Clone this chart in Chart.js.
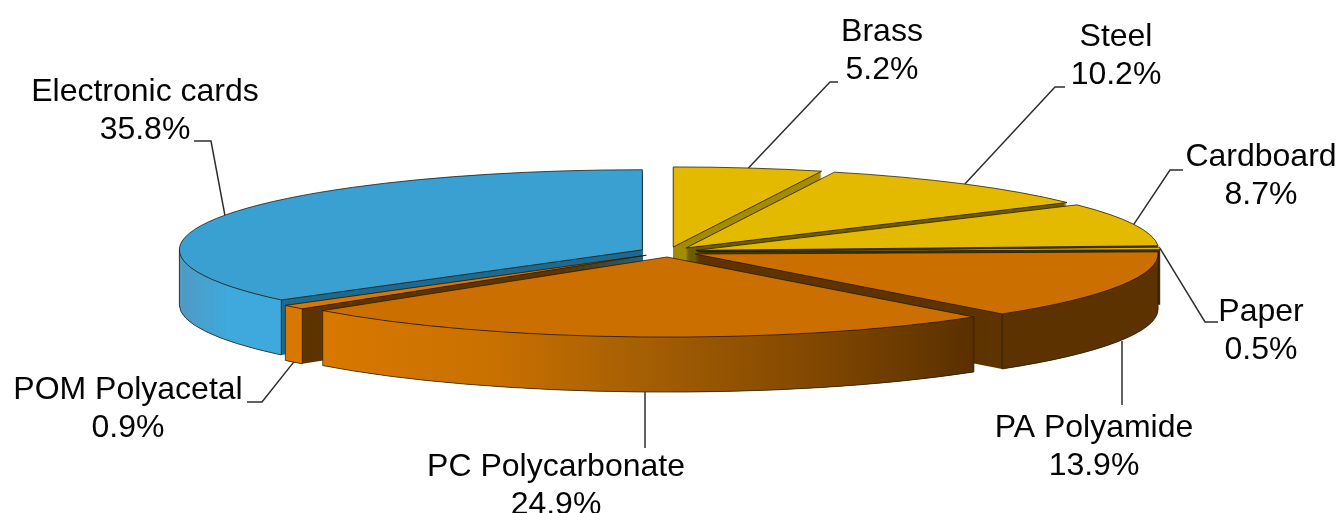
<!DOCTYPE html>
<html>
<head>
<meta charset="utf-8">
<title>Material share</title>
<script src="https://cdn.jsdelivr.net/npm/chart.js@4/dist/chart.umd.min.js"></script>
<style>
    html, body { margin: 0; padding: 0; background: #fff; overflow: hidden; }
    canvas { display: block; }
</style>
</head>
<body>
<canvas id="pieChart" width="1341" height="513"></canvas>
<script>
// clockwise from 12 o'clock
const materials = ['Brass', 'Steel', 'Cardboard', 'Paper', 'PA Polyamide', 'PC Polycarbonate', 'POM Polyacetal', 'Electronic cards'];
const shares = [5.2, 10.2, 8.7, 0.5, 13.9, 24.9, 0.9, 35.8];

const topColors = ['#e3ba00', '#e3ba00', '#e3ba00', '#e3ba00', '#cb7000', '#cb7000', '#d87800', '#3a9fd1'];
const cutColors = ['#a48c00', '#6e5c00', '#4a3e00', '#3a3000', '#5f3400', '#5f3400', '#5f3400', '#1f6a90'];
const rimColors = [
    ['#a48c00', '#a48c00'],
    ['#8f7a00', '#8f7a00'],
    ['#6e5c00', '#6e5c00'],
    ['#4f4200', '#4f4200'],
    ['#5c3200', '#5c3200'],
    ['#d87800', '#ca7100', '#a45e04', '#824800', '#5a3000'],
    ['#d87800', '#d87800'],
    ['#4f9ac2', '#3fa9de', '#3fa9de']
];

// back to front
const paintOrder = [7, 0, 1, 2, 3, 4, 6, 5];

// text centres and leader bends, in page pixels
const labelX = [882, 1116, 1261, 1261, 1094, 556, 128, 145];
const labelY = [32, 37, 157, 312, 428, 467, 390, 92];
const leaderBends = [
    [[830, 82], [838, 82]],
    [[1055, 87], [1065, 87]],
    [[1170, 170], [1183, 170]],
    [[1205, 322], [1218, 322]],
    [[1122, 405]],
    [[645, 448]],
    [[262, 402], [247, 402]],
    [[211, 141], [194, 141]]
];

const pieRadius = 463;
const squash = 0.173;
const explode = 29;
const pieDepth = 55;
const lineGap = 38;
const labelFont = '32px "Liberation Sans", Arial, sans-serif';

function moveToSlice(ctx, arc, drop) {
    const k = pieRadius / arc.outerRadius;
    const mid = (arc.startAngle + arc.endAngle) / 2;
    ctx.translate(arc.x, arc.y + drop);
    ctx.scale(k, k * squash);
    ctx.translate(Math.cos(mid) * explode / k, Math.sin(mid) * explode / k);
    ctx.translate(-arc.x, -arc.y);
}

function drawArc(ctx, arc, color) {
    const saved = arc.options;
    arc.options = { ...saved, backgroundColor: color, borderWidth: 0 };
    arc.draw(ctx);
    arc.options = saved;
}

function drawSlice(ctx, arc, index) {
    const k = pieRadius / arc.outerRadius;
    const r = arc.outerRadius;
    const localDepth = pieDepth / (k * squash);

    // cut faces, the pie top pushed down pixel by pixel
    for (let d = pieDepth; d > 0; d--) {
        ctx.save();
        moveToSlice(ctx, arc, d);
        drawArc(ctx, arc, cutColors[index]);
        ctx.restore();
    }

    // outer wall, only the part facing the viewer
    const from = Math.max(arc.startAngle, 0);
    const to = Math.min(arc.endAngle, Math.PI);
    if (to > from) {
        ctx.save();
        moveToSlice(ctx, arc, 0);
        const gradient = ctx.createLinearGradient(arc.x + r * Math.cos(to), 0, arc.x + r * Math.cos(from), 0);
        rimColors[index].forEach((color, i, all) => gradient.addColorStop(i / (all.length - 1), color));
        ctx.beginPath();
        ctx.arc(arc.x, arc.y, r, from, to);
        ctx.arc(arc.x, arc.y + localDepth, r, to, from, true);
        ctx.closePath();
        ctx.fillStyle = gradient;
        ctx.fill();
        ctx.restore();

        // build the outline scaled, stroke it unscaled
        ctx.save();
        moveToSlice(ctx, arc, 0);
        ctx.beginPath();
        ctx.arc(arc.x, arc.y + localDepth, r, from, to);
        ctx.lineTo(arc.x + r * Math.cos(to), arc.y + r * Math.sin(to));
        ctx.moveTo(arc.x + r * Math.cos(from), arc.y + r * Math.sin(from));
        ctx.lineTo(arc.x + r * Math.cos(from), arc.y + localDepth + r * Math.sin(from));
        ctx.restore();
        ctx.strokeStyle = 'rgba(40, 25, 0, 0.7)';
        ctx.lineWidth = 1;
        ctx.stroke();
    }

    ctx.save();
    moveToSlice(ctx, arc, 0);
    drawArc(ctx, arc, topColors[index]);
    ctx.beginPath();
    ctx.moveTo(arc.x, arc.y);
    ctx.arc(arc.x, arc.y, r, arc.startAngle, arc.endAngle);
    ctx.closePath();
    ctx.restore();
    ctx.strokeStyle = 'rgba(30, 22, 5, 0.75)';
    ctx.lineWidth = 1;
    ctx.stroke();
}

function drawLabel(ctx, arc, index) {
    const mid = (arc.startAngle + arc.endAngle) / 2;
    const sx = arc.x + Math.cos(mid) * (explode + pieRadius);
    const front = Math.sin(mid) > 0;
    const sy = arc.y + Math.sin(mid) * (explode + pieRadius) * squash + (front ? pieDepth : 0);
    const bends = leaderBends[index];

    ctx.beginPath();
    // single bend means a straight vertical drop
    ctx.moveTo(bends.length === 1 ? bends[0][0] : sx, sy);
    bends.forEach(([x, y]) => ctx.lineTo(x, y));
    ctx.strokeStyle = '#2e2e2e';
    ctx.lineWidth = 1.5;
    ctx.stroke();

    ctx.fillStyle = '#050505';
    ctx.font = labelFont;
    ctx.textAlign = 'center';
    ctx.textBaseline = 'middle';
    ctx.fillText(materials[index], labelX[index], labelY[index]);
    ctx.fillText(shares[index].toFixed(1) + '%', labelX[index], labelY[index] + lineGap);
}

const solidPie = {
    id: 'solidPie',
    // the flat pie is replaced by the tilted one below
    beforeDatasetDraw() {
        return false;
    },
    afterDatasetsDraw(chart) {
        const ctx = chart.ctx;
        const arcs = chart.getDatasetMeta(0).data;
        paintOrder.forEach((i) => drawSlice(ctx, arcs[i], i));
        arcs.forEach((arc, i) => drawLabel(ctx, arc, i));
    }
};

new Chart(document.getElementById('pieChart'), {
    type: 'pie',
    data: {
        labels: materials,
        datasets: [{
            data: shares,
            backgroundColor: topColors,
            borderWidth: 0
        }]
    },
    options: {
        responsive: false,
        animation: false,
        layout: { padding: { right: 4, bottom: 9 } },
        plugins: {
            legend: { display: false },
            tooltip: { enabled: false }
        }
    },
    plugins: [solidPie]
});
</script>
</body>
</html>
